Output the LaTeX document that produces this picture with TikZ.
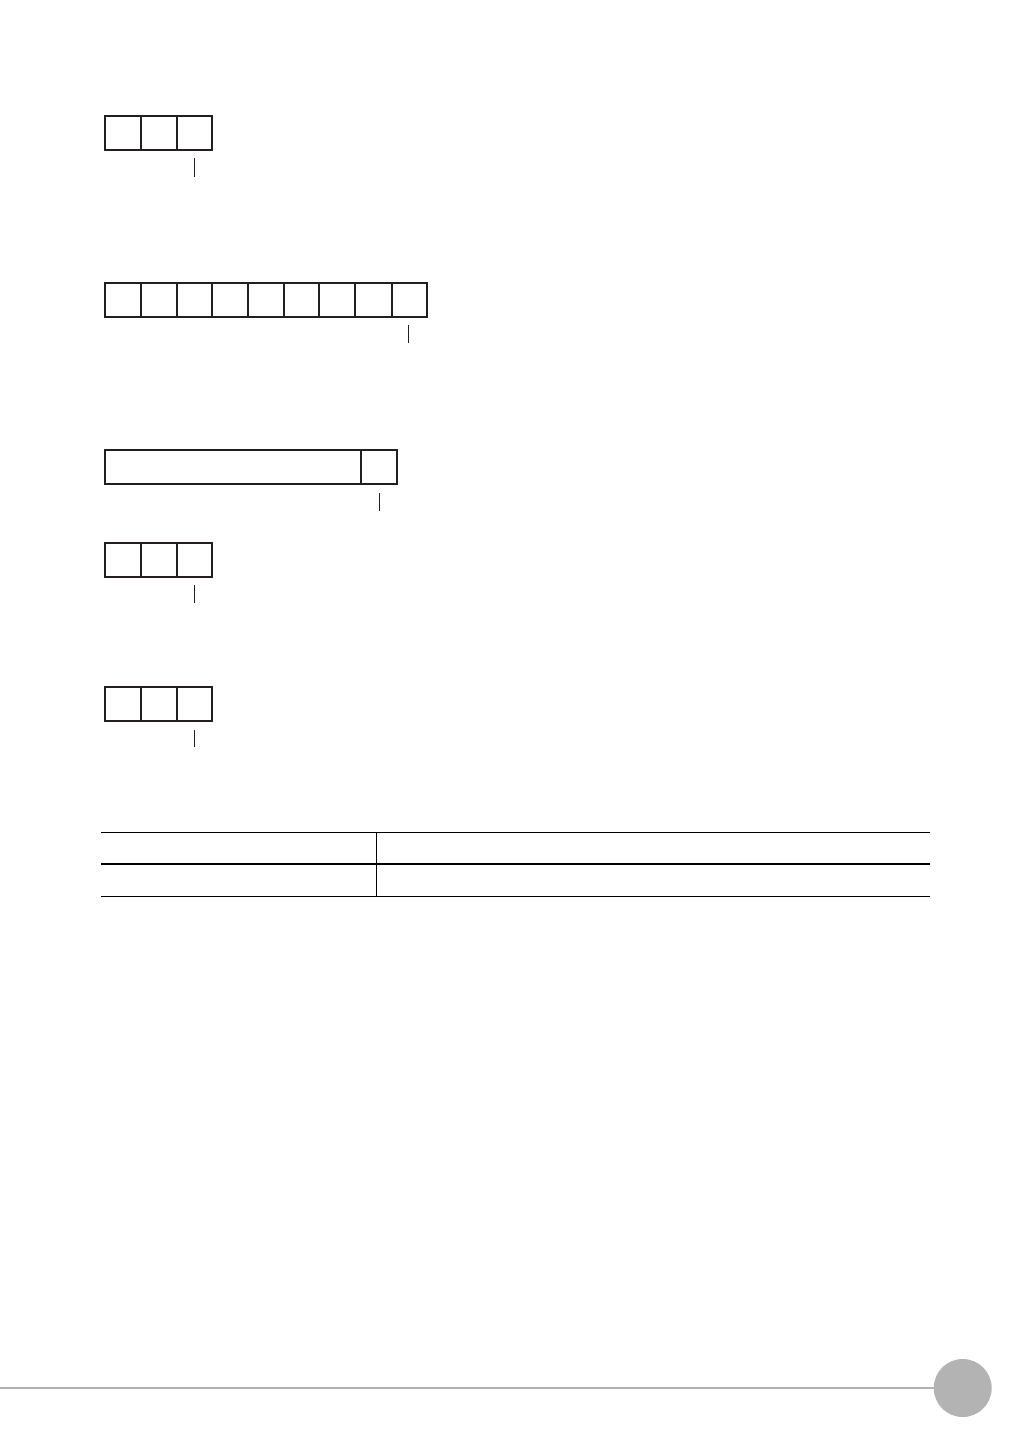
\documentclass[tikz,border=0pt]{standalone}
\definecolor{ink}{HTML}{231F20}
\definecolor{pagegray}{HTML}{B3B3B3}
\begin{document}
\begin{tikzpicture}[x=1pt,y=-1pt,
  cellbox/.style={draw=ink,line width=2pt},
  tickline/.style={draw=ink,line width=1.2pt},
  rule/.style={draw=black,line width=1.3pt}]
\useasboundingbox (0,0) rectangle (1032,1456);
% row 1
\draw[cellbox] (104.5,116) rectangle (212,150);
\draw[cellbox] (140.7,116) -- (140.7,150) (177.3,116) -- (177.3,150);
\draw[tickline] (194.7,158) -- (194.7,177);
% row 2
\draw[cellbox] (104.5,283) rectangle (427.3,317);
\foreach \x in {140.7,177.3,212.3,248.3,284.3,319.3,355.3,391.7}
  \draw[cellbox] (\x,283) -- (\x,317);
\draw[tickline] (408.3,325) -- (408.3,343);
% row 3
\draw[cellbox] (104.5,450) rectangle (396.7,483.5);
\draw[cellbox] (361,450) -- (361,483.5);
\draw[tickline] (379.3,493) -- (379.3,511);
% row 4
\draw[cellbox] (104.5,542.7) rectangle (212,576.7);
\draw[cellbox] (140.7,542.7) -- (140.7,576.7) (177.3,542.7) -- (177.3,576.7);
\draw[tickline] (194.7,585) -- (194.7,603);
% row 5
\draw[cellbox] (104.5,687) rectangle (212,721);
\draw[cellbox] (140.7,687) -- (140.7,721) (177.3,687) -- (177.3,721);
\draw[tickline] (194.7,729.5) -- (194.7,747);
% table
\draw[rule] (101,832.7) -- (930,832.7);
\draw[rule] (101,864) -- (930,864);
\draw[rule] (101,896.3) -- (930,896.3);
\draw[rule] (376.7,832.7) -- (376.7,896.3);
% footer
\draw[pagegray,line width=2.7pt] (0,1388) -- (940,1388);
\fill[pagegray] (962.7,1388) circle (29);
\end{tikzpicture}
\end{document}
